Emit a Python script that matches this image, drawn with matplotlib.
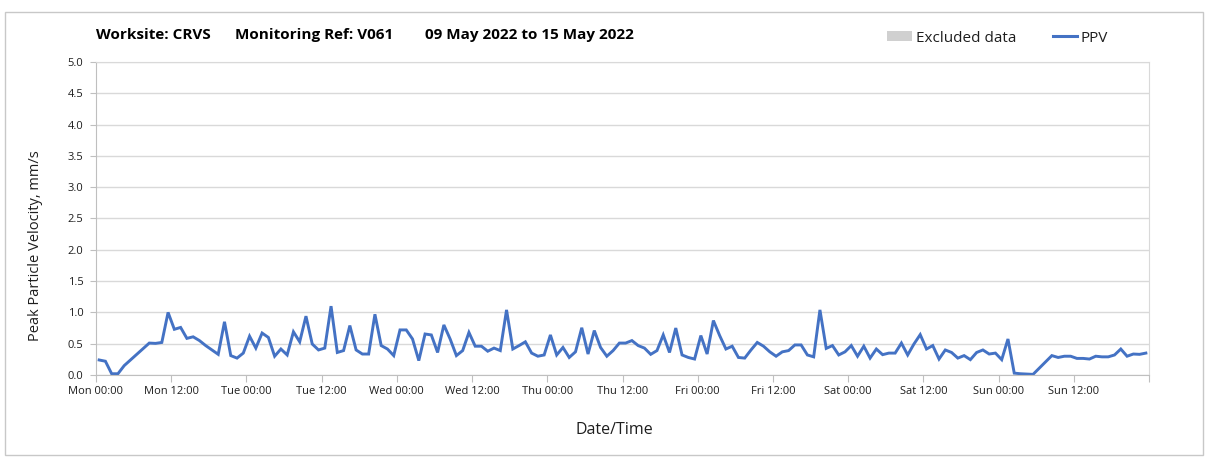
import numpy as np
import pandas as pd
import matplotlib
matplotlib.use("Agg")
import matplotlib.pyplot as plt
import matplotlib.dates as mdates
from matplotlib.patches import Patch, Rectangle
from matplotlib.lines import Line2D

# Data (hourly PPV readings, mm/s)

START = "2022-05-09 00:30"
END_RANGE = ("2022-05-09 00:00", "2022-05-16 00:00")

ppv = [
    0.24, 0.22, 0.02, 0.02, 0.15, 0.24, 0.33, 0.42, 0.51, 0.505, 0.52, 1.00,
    0.73, 0.76, 0.585, 0.61, 0.55, 0.47, 0.40, 0.33, 0.85, 0.31, 0.27, 0.35,
    0.62, 0.43, 0.67, 0.60, 0.30, 0.415, 0.32, 0.69, 0.53, 0.94, 0.495, 0.40,
    0.43, 1.10, 0.36, 0.39, 0.79, 0.40, 0.335, 0.335, 0.97, 0.47, 0.415, 0.31,
    0.72, 0.72, 0.575, 0.23, 0.655, 0.64, 0.36, 0.80, 0.575, 0.31, 0.39, 0.68,
    0.46, 0.46, 0.38, 0.43, 0.39, 1.04, 0.415, 0.47, 0.53, 0.35, 0.30, 0.32,
    0.64, 0.32, 0.44, 0.28, 0.37, 0.755, 0.335, 0.71, 0.44, 0.30, 0.39, 0.51,
    0.51, 0.55, 0.47, 0.43, 0.33, 0.39, 0.64, 0.36, 0.75, 0.32, 0.28, 0.255,
    0.63, 0.335, 0.87, 0.63, 0.415, 0.46, 0.28, 0.27, 0.40, 0.52, 0.46, 0.37,
    0.30, 0.37, 0.39, 0.48, 0.48, 0.32, 0.29, 1.04, 0.425, 0.47, 0.32, 0.37,
    0.47, 0.30, 0.46, 0.27, 0.415, 0.325, 0.35, 0.35, 0.51, 0.32, 0.495, 0.645,
    0.415, 0.47, 0.255, 0.40, 0.36, 0.27, 0.31, 0.245, 0.36, 0.40, 0.335, 0.35,
    0.245, 0.575, 0.03, 0.02, 0.015, 0.01, 0.11, 0.21, 0.31, 0.28, 0.30, 0.30,
    0.265, 0.265, 0.255, 0.30, 0.29, 0.29, 0.32, 0.415, 0.30, 0.335, 0.33, 0.35,
]
times = pd.date_range(START, periods=len(ppv), freq="h")

y_ticks = np.arange(0, 5.01, 0.5)

title_parts = ["Worksite: CRVS", "Monitoring Ref: V061", "09 May 2022 to 15 May 2022"]
title_x_px = [96, 235, 425]

line_color = "#4472C4"
grid_color = "#d9d9d9"
axis_color = "#bfbfbf"
text_color = "#1e1e1e"
font = "Open Sans"

plt.rcParams["font.family"] = [font, "DejaVu Sans"]

W, H = 1208, 461
fig = plt.figure(figsize=(W / 100, H / 100), dpi=100)
fig.patches.append(Rectangle((0.004, 0.012), 0.992, 0.962, transform=fig.transFigure,
                             fill=False, edgecolor="#c8c8c8", linewidth=1))

ax = fig.add_axes([96 / W, 1 - 375 / H, (1149 - 96) / W, (375 - 62) / H])
ax.plot(times, ppv, color=line_color, linewidth=2.1, solid_joinstyle="miter")

ax.set_xlim(pd.Timestamp(END_RANGE[0]), pd.Timestamp(END_RANGE[1]))
ax.set_ylim(0, 5.0)
ax.set_yticks(y_ticks)
ax.yaxis.set_major_formatter(plt.FuncFormatter(lambda v, p: f"{v:.1f}"))

ax.xaxis.set_major_locator(mdates.HourLocator(byhour=[0, 12]))
ax.xaxis.set_minor_locator(mdates.HourLocator(byhour=[0]))
last = mdates.date2num(pd.Timestamp(END_RANGE[1]))


def fmt_date(x, pos):
    if abs(x - last) < 1e-6:
        return ""
    return mdates.num2date(x).strftime("%a %H:%M")


ax.xaxis.set_major_formatter(plt.FuncFormatter(fmt_date))

ax.grid(which="minor", axis="x", color=grid_color, linewidth=1)
ax.grid(which="major", axis="y", color=grid_color, linewidth=1)
ax.set_axisbelow(True)

for side in ["top", "right"]:
    ax.spines[side].set_color(grid_color)
for side in ["left", "bottom"]:
    ax.spines[side].set_color(axis_color)

ax.tick_params(axis="x", which="major", length=5, color=axis_color, labelsize=8,
               labelcolor=text_color, pad=3)
ax.tick_params(axis="x", which="minor", length=0)
ax.tick_params(axis="y", length=4, color=axis_color, labelsize=8,
               labelcolor=text_color, pad=5)

ax.set_xlabel("Date/Time", fontsize=11.5, color=text_color)
ax.xaxis.set_label_coords((614 - 96) / 1053, (375 - 422) / 313)
ax.set_ylabel("Peak Particle Velocity, mm/s", fontsize=10.5, color=text_color)
ax.yaxis.set_label_coords((43 - 96) / 1053, (375 - 246) / 313)

for part, px in zip(title_parts, title_x_px):
    fig.text(px / W, 1 - 35 / H, part, fontsize=11, fontweight="bold",
             color="black", va="center", ha="left")

handles = [
    Patch(facecolor="#d0d0d0", edgecolor="none", label="Excluded data"),
    Line2D([0], [0], color=line_color, linewidth=2.2, label="PPV"),
]
fig.legend(handles=handles, loc="center right", bbox_to_anchor=(1122 / W, 1 - 38 / H),
           ncol=2, frameon=False, fontsize=11, handlelength=1.6, handleheight=0.7,
           handletextpad=0.25, columnspacing=2.4, labelcolor=text_color)

fig.savefig("out.png", dpi=100)
